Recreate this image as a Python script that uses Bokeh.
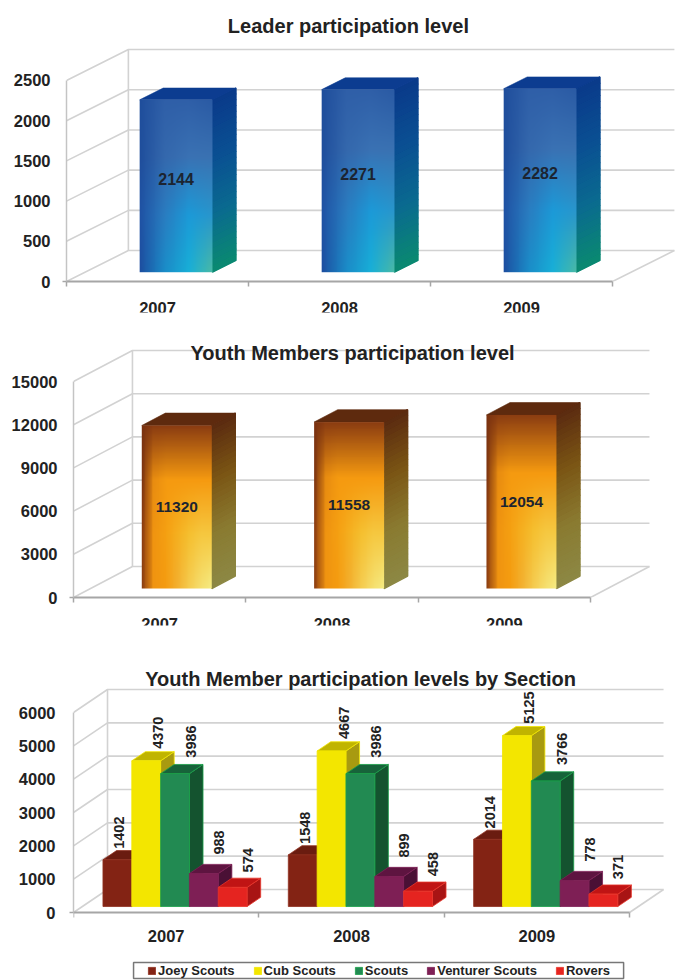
import math
import numpy as np
from bokeh.plotting import figure
from bokeh.layouts import column
from bokeh.models import FixedTicker, Label, Legend, LegendItem
from bokeh.embed import file_html
from bokeh.resources import INLINE

# ---- data ----
years = ["2007", "2008", "2009"]
leaders = [2144, 2271, 2282]
youth = [11320, 11558, 12054]
joey = [1402, 1548, 2014]
cub = [4370, 4667, 5125]
scouts = [3986, 3986, 3766]
venturer = [988, 899, 778]
rovers = [574, 458, 371]
section_names = ["Joey Scouts", "Cub Scouts", "Scouts", "Venturer Scouts", "Rovers"]
leader_ticks = [0, 500, 1000, 1500, 2000, 2500]
youth_ticks = [0, 3000, 6000, 9000, 12000, 15000]
section_ticks = [0, 1000, 2000, 3000, 4000, 5000, 6000]

# ---- styles ----
FONT = "Liberation Sans"
GRID = "#d2d2d2"
AXIS = "#a6a6a6"
INK = "#222222"
BLUE_FRONT = [["#1f4e9c", "#2f5fa8", "#2f5fa8", "#2a5aa4"],
              ["#1f4e9c", "#3468ad", "#3a72b4", "#3a72b2"],
              ["#1f52a4", "#2a7cc0", "#1c9ad8", "#2a96cc"],
              ["#1d4ea0", "#1a8cc8", "#18b0d8", "#4cbba4"]]
BLUE_SIDE = ["#0a3a8a", "#0a4f92", "#0a6a90", "#0a8a70"]
BLUE_CAP = "#0c3c90"
ORANGE_FRONT = [["#7a3210", "#8a3c12", "#8a3c12", "#8a3c12", "#8a3c12", "#8a3c12", "#8a3c12"],
                ["#7a3210", "#e88c10", "#f59a10", "#f59a10", "#f59a10", "#f59a10", "#f59a10"],
                ["#8a3a10", "#f09410", "#f5a012", "#f5b020", "#f5c030", "#f5c840", "#f5c840"],
                ["#8a3c10", "#f09410", "#f59c10", "#f3b030", "#f5cc50", "#f5e070", "#f5ee85"]]
ORANGE_SIDE = ["#5a2a10", "#7a5414", "#8a7a30", "#8c8844"]
ORANGE_CAP = "#5e2a0e"
SECTION_COLORS = [("#832314", "#6a1c10", "#5a1a10", "#8f3020"),
                  ("#f3e600", "#c0b400", "#a89a10", "#f3e600"),
                  ("#228a52", "#17633a", "#14532f", "#18a048"),
                  ("#7e1f55", "#5e1440", "#4a1035", "#7e1f55"),
                  ("#e52420", "#c01414", "#a81414", "#e8352a")]
LABEL_SHIFTS = [(2, 11), (12, 12), (16, 16), (15, 19), (15, 15)]


def rgb(h):
    return tuple(int(h[i:i + 2], 16) for i in (1, 3, 5))


def mix(a, b, t):
    return tuple(a[i] + (b[i] - a[i]) * t for i in range(3))


def css(c):
    return "#%02x%02x%02x" % tuple(int(round(v)) for v in c)


def lerp_list(colors, t):
    s = t * (len(colors) - 1)
    i = min(int(s), len(colors) - 2)
    return mix(rgb(colors[i]), rgb(colors[i + 1]), s - i)


def grid_color(grid, u, v):
    s = v * (len(grid) - 1)
    i = min(int(s), len(grid) - 2)
    return mix(lerp_list(grid[i], u), lerp_list(grid[i + 1], u), s - i)


def make_fig(height, left, bottom, y_start, y_end, x_end, ticks, tick_size, standoff, x_standoff):
    p = figure(width=675, height=height, output_backend="svg", toolbar_location=None,
               x_range=(0, x_end), y_range=(y_start, y_end), title=None,
               min_border_left=left, min_border_right=0, min_border_top=0, min_border_bottom=bottom)
    p.frame_align = False
    p.outline_line_color = None
    p.grid.visible = False
    p.background_fill_color = "white"
    p.border_fill_color = "white"
    ya = p.yaxis[0]
    ya.ticker = FixedTicker(ticks=ticks, minor_ticks=[0])
    ya.bounds = (0, ticks[-1])
    ya.axis_line_color = "#c4c4c4"
    ya.axis_line_width = 1.5
    ya.major_tick_line_color = None
    ya.major_tick_in = 0
    ya.major_tick_out = 0
    ya.minor_tick_line_color = AXIS
    ya.minor_tick_in = 0
    ya.minor_tick_out = 4
    ya.minor_tick_line_width = 1.5
    ya.major_label_standoff = standoff
    ya.major_label_text_font = FONT
    ya.major_label_text_font_style = "bold"
    ya.major_label_text_font_size = tick_size
    ya.major_label_text_color = INK
    xa = p.xaxis[0]
    xa.ticker = FixedTicker(ticks=[0.5, 1.5, 2.5], minor_ticks=[0, 1, 2, 3])
    xa.major_label_overrides = {0.5: years[0], 1.5: years[1], 2.5: years[2]}
    xa.bounds = (0, 3)
    xa.axis_line_color = AXIS
    xa.axis_line_width = 2
    xa.major_tick_line_color = None
    xa.major_tick_in = 0
    xa.major_tick_out = 0
    xa.minor_tick_line_color = AXIS
    xa.minor_tick_in = 0
    xa.minor_tick_out = 5
    xa.minor_tick_line_width = 1.5
    xa.major_label_standoff = x_standoff
    xa.major_label_text_font = FONT
    xa.major_label_text_font_style = "bold"
    xa.major_label_text_font_size = tick_size
    xa.major_label_text_color = INK
    return p


def draw_walls(p, ticks, bdx, bdy):
    xs, ys = [], []
    top = ticks[-1]
    for t in ticks:
        xs.append([0, bdx, 3 + bdx])
        ys.append([t, t + bdy, t + bdy])
    xs.append([bdx, bdx])
    ys.append([bdy, top + bdy])
    xs.append([3, 3 + bdx])
    ys.append([0, bdy])
    p.multi_line(xs, ys, line_color=GRID, line_width=1.6)


def front_image(grid):
    nx, ny = 80, 190
    img = np.zeros((ny, nx), dtype=np.uint32)
    view = img.view(dtype=np.uint8).reshape((ny, nx, 4))
    for jy in range(ny):
        for jx in range(nx):
            c = grid_color(grid, (jx + 0.5) / nx, (ny - jy - 0.5) / ny)
            view[jy, jx] = (int(c[0]), int(c[1]), int(c[2]), 255)
    return img


def draw_gradient_bars(p, values, bdx, bdy, width, d0, d1, front, side, cap, y_shift, label_size):
    ny = 30
    tex = front_image(front)
    for i, val in enumerate(values):
        x0 = i + 0.5 - width / 2
        x1 = x0 + width
        fx0, fx1 = x0 + d0 * bdx, x1 + d0 * bdx
        base = d0 * bdy
        ox, oy = (d1 - d0) * bdx, (d1 - d0) * bdy
        sx, sy, sc = [], [], []
        for k in range(ny):
            a, b = val * (1 - k / ny), val * (1 - (k + 1) / ny)
            sx.append([fx1, fx1 + ox, fx1 + ox, fx1])
            sy.append([base + a, base + a + oy, base + b + oy, base + b])
            sc.append(css(lerp_list(side, (k + 0.5) / ny)))
        p.patches(sx, sy, fill_color=sc, line_color=sc, line_width=1.4)
        p.patch([fx0, fx0 + ox, fx1 + ox, fx1],
                [base + val, base + val + oy, base + val + oy, base + val],
                fill_color=cap, line_color=cap, line_width=0.6)
        p.image_rgba(image=[tex], x=[fx0], y=[base], dw=[fx1 - fx0], dh=[val])
        p.text([(fx0 + fx1) / 2], [base + val / 2], text=[str(val)], text_align="center",
               text_baseline="middle", text_font={"value": FONT}, text_font_style="bold",
               text_font_size={"value": label_size}, text_color="#1c2430", y_offset=y_shift)


def add_title(p, text, x, y, size):
    p.add_layout(Label(x=x, y=y, text=text, text_align="center", text_baseline="middle",
                       text_font=FONT, text_font_style="bold", text_font_size=size,
                       text_color=INK))


# ---- chart 1: leaders ----
p1 = make_fig(321, 66, 40, 0, 3495, 3.346, leader_ticks, "16.5px", 12, 15)
draw_walls(p1, leader_ticks, 0.34, 385)
draw_gradient_bars(p1, leaders, 0.34, 385, 0.40, 0.30, 0.68, BLUE_FRONT, BLUE_SIDE, BLUE_CAP, -7, "16px")
add_title(p1, "Leader participation level", 1.549, 3184, "20px")
p1.margin = (0, 0, -9, 0)

# ---- chart 2: youth members ----
p2 = make_fig(325, 73, 40, 0, 19792, 3.493, youth_ticks, "16.5px", 12, 15)
draw_walls(p2, youth_ticks, 0.342, 2153)
draw_gradient_bars(p2, youth, 0.342, 2153, 0.406, 0.29, 0.69, ORANGE_FRONT, ORANGE_SIDE, ORANGE_CAP, 0, "15.5px")
add_title(p2, "Youth Members participation level", 1.619, 17014, "20px")
p2.margin = (0, 0, -12, 0)

# ---- chart 3: sections ----
p3 = make_fig(355, 73, 0, -2040, 8610, 3.248, section_ticks, "16.5px", 14, 12)
p3.xaxis[0].fixed_location = 0
BDX3, BDY3, D0, D1, BW = 0.1835, 690, 0.26, 0.66, 0.1555
draw_walls(p3, section_ticks, BDX3, BDY3)
items = []
for s, (series, name) in enumerate(zip([joey, cub, scouts, venturer, rovers], section_names)):
    fc, cc, sc, ec = SECTION_COLORS[s]
    lx, rx, tops = [], [], []
    sxs, sys, cxs, cys = [], [], [], []
    ox, oy = (D1 - D0) * BDX3, (D1 - D0) * BDY3
    base = D0 * BDY3
    for i, val in enumerate(series):
        x0 = i + 0.5 - 2.5 * BW + s * BW + D0 * BDX3
        x1 = x0 + BW
        lx.append(x0)
        rx.append(x1)
        tops.append(base + val)
        sxs.append([x1, x1 + ox, x1 + ox, x1])
        sys.append([base + val, base + val + oy, base + oy, base])
        cxs.append([x0, x0 + ox, x1 + ox, x1])
        cys.append([base + val, base + val + oy, base + val + oy, base + val])
    p3.patches(sxs, sys, fill_color=sc, line_color=ec, line_width=0.8)
    p3.patches(cxs, cys, fill_color=cc, line_color=ec, line_width=0.8)
    front = p3.quad(left=lx, right=rx, top=tops, bottom=[base] * 3, fill_color=fc,
                    line_color=ec, line_width=0.8)
    items.append(LegendItem(label=name, renderers=[front]))
for s, series in enumerate([joey, cub, scouts, venturer, rovers]):
    for i, val in enumerate(series):
        cx = i + 0.5 - 2.5 * BW + (s + 0.5) * BW + D0 * BDX3
        p3.text([cx], [D0 * BDY3 + val], text=[str(val)], angle=math.pi / 2,
                text_align="left", text_baseline="middle", text_font={"value": FONT},
                text_font_style="bold", text_font_size={"value": "14.5px"}, text_color=INK,
                x_offset=LABEL_SHIFTS[s][0], y_offset=-LABEL_SHIFTS[s][1])
add_title(p3, "Youth Member participation levels by Section", 1.549, 7020, "20px")
p3.quad(left=[0.324], right=[2.968], top=[-1500], bottom=[-1980], fill_color=None,
        line_color="#777777", line_width=1.5)
legend = Legend(items=items, location=(74, 2), orientation="horizontal", spacing=18,
                padding=3, margin=0, glyph_width=9, glyph_height=9, label_height=11,
                label_standoff=2, label_text_font=FONT, label_text_font_style="bold",
                label_text_font_size="13px", label_text_color=INK,
                border_line_color=None, background_fill_alpha=0)
p3.add_layout(legend)

page = column(p1, p2, p3, spacing=0)
open("out.html", "w").write(file_html(page, INLINE))
